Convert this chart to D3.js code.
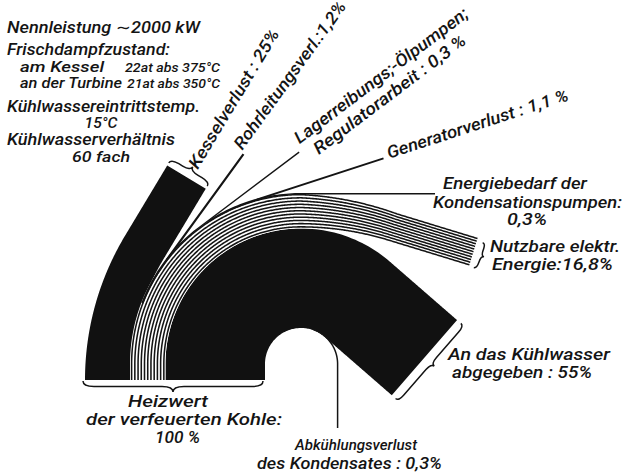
<!DOCTYPE html>
<html>
<head>
<meta charset="utf-8">
<script src="https://cdn.jsdelivr.net/npm/d3@7"></script>
<style>
  html, body { margin: 0; padding: 0; background: #fff; }
  svg text { font-family: Roboto, "Open Sans", "DejaVu Sans", sans-serif; font-style: italic; font-weight: 500; fill: #141414; }
</style>
</head>
<body>
<svg id="chart" width="624" height="474"></svg>
<script>
// Energy balance of a 2000 kW condensing steam plant, in percent of the fuel heating value

// ---- data -------------------------------------------------------------
const heatInput = 100;                 // Heizwert der verfeuerten Kohle
const boilerLoss = 25;                 // Kesselverlust
const coolingWater = 55;               // an das Kühlwasser abgegeben
const condensateLoss = 0.3;            // Abkühlungsverlust des Kondensates
const usefulEnergy = 16.8;             // nutzbare elektrische Energie
const turbineLossNames = [
  ["Rohrleitungsverl.:1,2%"],
  ["Lagerreibungs;-Ölpumpen;", "Regulatorarbeit : 0,3 %"],
  ["Generatorverlust : 1,1 %"],
  ["Energiebedarf der", "Kondensationspumpen:", "0,3%"]
];
const turbineLossValues = [1.2, 0.3, 1.1, 0.3];
const plantNotes = [
  "Nennleistung ∼2000 kW",
  "Frischdampfzustand:",
  "am Kessel", "22at abs 375°C",
  "an der Turbine", "21at abs 350°C",
  "Kühlwassereintrittstemp.",
  "15°C",
  "Kühlwasserverhältnis",
  "60 fach"
];
const boilerLabel = "Kesselverlust : 25%";
const usefulLabel = ["Nutzbare elektr.", "Energie:16,8%"];
const coolingLabel = ["An das Kühlwasser", "abgegeben : 55%"];
const inputLabel = ["Heizwert", "der verfeuerten Kohle:", "100 %"];
const condensateLabel = ["Abkühlungsverlust", "des Kondensates : 0,3%"];

// derived flows
const steamAtBase = usefulEnergy + d3.sum(turbineLossValues);   // striped band
const coolingAtBase = coolingWater + condensateLoss;            // black band

// ---- layout -------------------------------------------------------------
const deg = Math.PI / 180;
const pct = d3.scaleLinear().domain([0, heatInput]).range([0, 180]);
const base = { x: 85, y: 380 };
const stem = 16, holeR = 36;
const lossAngles = [-54, -37, -18, 0];          // heading where each leader leaves
const lossLengths = [136, 126, 142, 134];

const svg = d3.select("#chart");
const line = d3.line();

// walk along a reference edge made of straight pieces and clockwise arcs
function trace(start, heading, segs, step = 1) {
  let x = start[0], y = start[1], phi = heading, s = 0;
  const pts = [{ x, y, phi, s }];
  for (const g of segs) {
    if (g.line !== undefined) {
      const n = Math.max(1, Math.ceil(g.line / step));
      for (let i = 1; i <= n; i++) {
        x += g.line / n * Math.cos(phi); y += g.line / n * Math.sin(phi); s += g.line / n;
        pts.push({ x, y, phi, s });
      }
    } else {
      const cx = x - g.r * Math.sin(phi), cy = y + g.r * Math.cos(phi);
      const n = Math.max(2, Math.ceil(g.turn * g.r / step));
      const s0 = s, p0 = phi;
      for (let i = 1; i <= n; i++) {
        const p = p0 + g.turn * i / n;
        x = cx + g.r * Math.sin(p); y = cy - g.r * Math.cos(p);
        pts.push({ x, y, phi: p, s: s0 + g.r * g.turn * i / n });
      }
      phi = p0 + g.turn; s = s0 + g.r * g.turn;
    }
  }
  return pts;
}
const offsetPt = (p, o) => [p.x + o * Math.sin(p.phi), p.y - o * Math.cos(p.phi)];
function ribbon(pts, width) {
  const inner = pts.map(p => offsetPt(p, 0));
  const outer = pts.map(p => offsetPt(p, width(p))).reverse();
  return line(inner.concat(outer)) + "Z";
}
function bracePath(A, B, v, d) {
  const L = Math.hypot(B[0] - A[0], B[1] - A[1]);
  const u = [(B[0] - A[0]) / L, (B[1] - A[1]) / L];
  const q = Math.min(d, L / 4);
  const P = (p, a, b) => [p[0] + u[0] * a + v[0] * b, p[1] + u[1] * a + v[1] * b];
  const M = [(A[0] + B[0]) / 2, (A[1] + B[1]) / 2];
  const p = d3.path();
  p.moveTo(A[0], A[1]);
  p.quadraticCurveTo(...P(A, 0, d / 2), ...P(A, q, d / 2));
  p.lineTo(...P(M, -q, d / 2));
  p.quadraticCurveTo(...P(M, 0, d / 2), ...P(M, 0, d));
  p.quadraticCurveTo(...P(M, 0, d / 2), ...P(M, q, d / 2));
  p.lineTo(...P(B, -q, d / 2));
  p.quadraticCurveTo(...P(B, 0, d / 2), B[0], B[1]);
  return { d: p.toString(), tip: P(M, 0, d) };
}
function drawBrace(A, B, v, d) {
  const b = bracePath(A, B, v, d);
  svg.append("path").attr("d", b.d).attr("fill", "none").attr("stroke", "#141414").attr("stroke-width", 1.5);
  return b.tip;
}
const ends = (pts, w) => {
  const last = pts[pts.length - 1];
  return { inner: offsetPt(last, 0), outer: offsetPt(last, w), phi: last.phi };
};

// ---- boiler loss band ---------------------------------------------------
const boilerPts = trace([base.x + pct(boilerLoss), base.y], -90 * deg,
  [{ r: 235, turn: 31 * deg }, { line: 82 }]);
svg.append("path").attr("d", ribbon(boilerPts, () => pct(boilerLoss))).attr("fill", "#111");

// ---- cooling water band -------------------------------------------------
const coolingPts = trace([base.x + pct(heatInput), base.y], -90 * deg,
  [{ line: stem }, { r: holeR, turn: 131 * deg }, { line: 89 }]);
svg.append("path").attr("d", ribbon(coolingPts, () => pct(coolingAtBase))).attr("fill", "#111");

// ---- steam / electric band (striped) ------------------------------------
const R1 = holeR + pct(coolingAtBase);
const steamPts = trace([base.x + pct(boilerLoss + steamAtBase), base.y], -90 * deg,
  [{ line: stem }, { r: R1, turn: 90 * deg }, { r: 300, turn: 17 * deg }, { line: 84 }]);
const sTop = stem + R1 * Math.PI / 2, sBend = sTop + 300 * 17 * deg;
const steamWidth = p => {
  const t = Math.max(0, Math.min(1, (p.s - sTop) / (sBend - sTop)));
  return pct(steamAtBase) - t * pct(steamAtBase - usefulEnergy);
};
svg.append("path").attr("d", ribbon(steamPts, steamWidth)).attr("fill", "#fff");
const nStripes = 11;
d3.range(nStripes).forEach(i => {
  svg.append("path")
    .attr("d", line(steamPts.map(p => offsetPt(p, (i + 0.5) / nStripes * steamWidth(p)))))
    .attr("fill", "none").attr("stroke", "#141414").attr("stroke-width", 1.55);
});

// ---- turbine loss leaders -----------------------------------------------
const cx = base.x + pct(heatInput) + holeR, cy = base.y - stem;
const Rout = R1 + pct(steamAtBase);
const leaderEnds = turbineLossValues.map((v, k) => {
  const lw = Math.max(1.4, pct(v));
  const R = Rout - lw / 2;
  const a = lossAngles[k] * deg;
  const pts = d3.range(a - 15 * deg, a + 1e-6, deg).map(p => [cx + R * Math.sin(p), cy - R * Math.cos(p)]);
  const T = [cx + R * Math.sin(a), cy - R * Math.cos(a)];
  const E = [T[0] + lossLengths[k] * Math.cos(a), T[1] + lossLengths[k] * Math.sin(a)];
  pts.push(E);
  svg.append("path").attr("d", line(pts)).attr("fill", "none")
    .attr("stroke", "#141414").attr("stroke-width", lw);
  return { E, a };
});

// condensate cooling loss along the hole
{
  const lw = 1.5, R = holeR + 0.6;
  const pts = d3.range(20 * deg, 90 * deg + 1e-6, deg).map(p => [cx + R * Math.sin(p), cy - R * Math.cos(p)]);
  pts.push([cx + R, 428]);
  svg.append("path").attr("d", line(pts)).attr("fill", "none")
    .attr("stroke", "#141414").attr("stroke-width", lw);
}

// ---- braces ---------------------------------------------------------------
const bEnd = ends(boilerPts, pct(boilerLoss));
const hB = [Math.cos(bEnd.phi), Math.sin(bEnd.phi)];
const bOff = (p, o) => [p[0] + hB[0] * o, p[1] + hB[1] * o];
const boilerTip = drawBrace(bOff(bEnd.outer, 3), bOff(bEnd.inner, 3), hB, 9);

const sEnd = ends(steamPts, pct(usefulEnergy));
const hS = [Math.cos(sEnd.phi), Math.sin(sEnd.phi)];
drawBrace([sEnd.outer[0] + hS[0] * 5, sEnd.outer[1] + hS[1] * 5 + 4],
          [sEnd.inner[0] + hS[0] * 5, sEnd.inner[1] + hS[1] * 5], hS, 6);

const cEnd = ends(coolingPts, pct(coolingAtBase));
const hC = [Math.cos(cEnd.phi), Math.sin(cEnd.phi)];
drawBrace([cEnd.inner[0] + hC[0] * 5, cEnd.inner[1] + hC[1] * 5],
          [cEnd.outer[0] + hC[0] * 5, cEnd.outer[1] + hC[1] * 5], hC, 8);

drawBrace([base.x - 2, base.y + 1], [base.x + pct(heatInput) - 2, base.y + 1], [0, 1], 11);

// ---- labels ---------------------------------------------------------------
// each text gets a font size and the run length it should occupy
function txt(s, x, y, size, width, anchor = "start") {
  const t = svg.append("text").attr("x", x).attr("y", y).attr("font-size", size)
    .attr("text-anchor", anchor).text(s);
  if (width) t.attr("textLength", width).attr("lengthAdjust", "spacingAndGlyphs");
  return t;
}
function rotated(lines, origin, angle, specs) {
  const g = svg.append("g")
    .attr("transform", `translate(${origin[0]},${origin[1]}) rotate(${angle / deg})`);
  lines.forEach((s, i) => {
    const [x, y, size, width] = specs[i];
    g.append("text").attr("x", x).attr("y", y).attr("font-size", size)
      .attr("textLength", width).attr("lengthAdjust", "spacingAndGlyphs").text(s);
  });
}

// plant data block: x, baseline, size, run length, anchor
const noteLayout = [
  [7, 33, 16, 193, "start"], [7, 55, 16, 163, "start"],
  [20, 72, 15.5, 84, "start"], [125, 72, 13, 95, "start"],
  [20, 88, 15, 102, "start"], [127, 88, 13, 93, "start"],
  [7, 112, 16, 193, "start"], [101, 128, 14.5, 33, "middle"],
  [7, 145, 16, 168, "start"], [101, 162, 15.5, 58, "middle"]
];
plantNotes.forEach((s, i) => {
  const [x, y, size, width, anchor] = noteLayout[i];
  txt(s, x, y, size, width, anchor);
});

rotated([boilerLabel], boilerTip, bEnd.phi, [[0, 6, 17, 159]]);

const lossLabelSpecs = [
  [[2, -3, 17, 178]],
  [[5, -6, 17, 213], [14, 14, 17, 186]],
  [[5, 2, 17, 190]]
];
leaderEnds.slice(0, 3).forEach((L, k) =>
  rotated(turbineLossNames[k], L.E, L.a, lossLabelSpecs[k]));

const kE = leaderEnds[3].E;
txt(turbineLossNames[3][0], kE[0] + 8, kE[1] - 5, 16, 144);
txt(turbineLossNames[3][1], kE[0] - 2, kE[1] + 14, 16, 189);
txt(turbineLossNames[3][2], kE[0] + 92, kE[1] + 31, 16, 40, "middle");

txt(usefulLabel[0], 490, 252, 16.5, 130);
txt(usefulLabel[1], 492, 270, 16.5, 121);

txt(coolingLabel[0], 448, 360, 17, 162);
txt(coolingLabel[1], 452, 378, 17, 140);

txt(inputLabel[0], 128, 407, 17, 80);
txt(inputLabel[1], 86, 425, 17, 196);
txt(inputLabel[2], 155, 443, 17, 45);

txt(condensateLabel[0], 295, 450, 15.5, 122);
txt(condensateLabel[1], 257, 469, 16.5, 185);
</script>
</body>
</html>
